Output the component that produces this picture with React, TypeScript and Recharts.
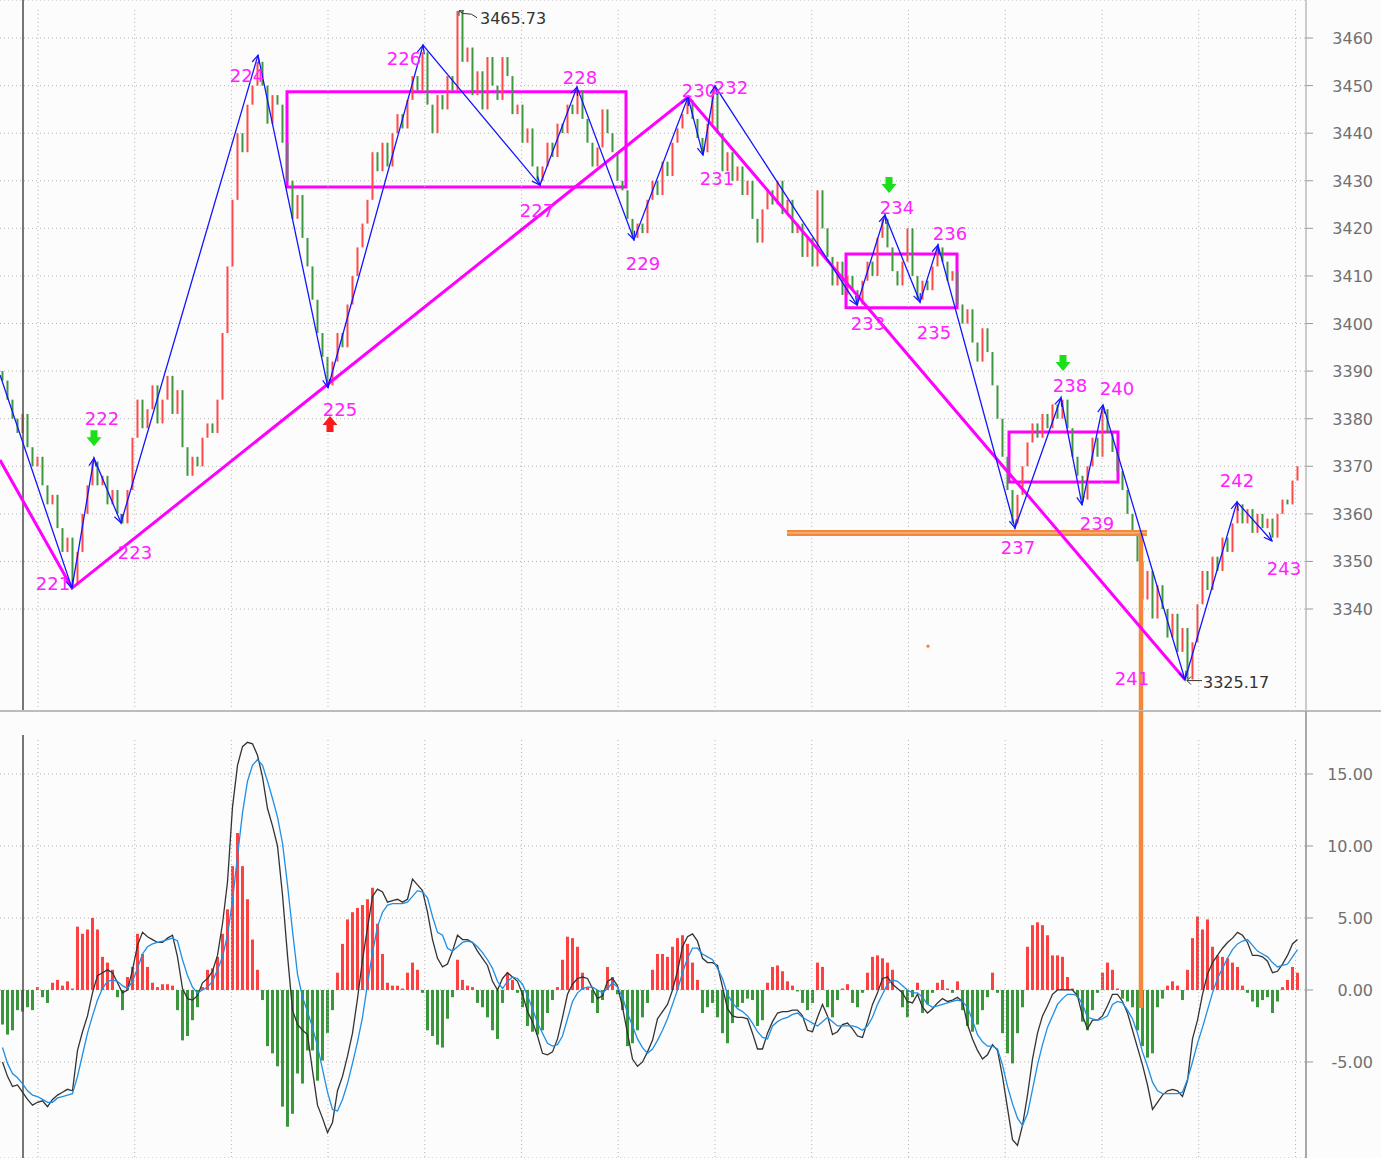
import React from 'react';
import {
  ComposedChart, Bar, Line, XAxis, YAxis, CartesianGrid,
  ReferenceLine, ReferenceArea, ReferenceDot, Cell,
} from 'recharts';

// ---------------- DATA ----------------
const firstOpen = 3390;
const closes = [
  3388, 3384, 3380, 3377, 3381, 3374, 3370, 3372, 3366, 3362, 3364, 3357, 3352, 3355, 3345,
  3352, 3360, 3366, 3371, 3366, 3368, 3362, 3365, 3360, 3358,
  3365, 3376, 3384, 3378, 3382, 3387, 3379, 3384, 3389, 3381, 3386, 3374, 3368, 3372, 3370, 3376, 3379, 3377, 3384, 3398, 3412, 3426, 3440, 3436, 3446, 3450, 3455,
  3450, 3442, 3448, 3446, 3438, 3430, 3422, 3427, 3418, 3412, 3405, 3398, 3393, 3387,
  3392, 3398, 3395, 3404, 3410, 3416, 3421, 3426, 3436, 3432, 3438, 3433, 3440, 3444, 3441, 3447, 3452, 3449, 3457,
  3446, 3440, 3448, 3445, 3452, 3449, 3465.7, 3455, 3458, 3448, 3453, 3445, 3456, 3450, 3447, 3456, 3452, 3444, 3446, 3438, 3441, 3433, 3430,
  3433, 3438, 3435, 3442, 3440, 3446, 3444, 3449,
  3443, 3438, 3433, 3437, 3445, 3440, 3436, 3430, 3428, 3422, 3418,
  3421, 3419, 3426, 3430, 3427, 3434, 3431, 3438, 3441, 3444, 3447,
  3443, 3439, 3436, 3442, 3449,
  3440, 3432, 3436, 3430, 3433, 3427, 3430, 3422, 3417, 3424, 3428, 3425, 3430, 3423, 3426, 3419, 3421, 3414, 3418, 3412, 3428, 3420, 3414, 3408, 3413, 3406, 3410, 3407, 3404,
  3409, 3413, 3410, 3418, 3422,
  3416, 3411, 3408, 3413, 3420, 3410, 3405,
  3409, 3407, 3412, 3416,
  3413, 3409, 3411, 3404, 3400, 3403, 3396, 3392, 3399, 3394, 3387, 3380, 3372, 3365, 3358,
  3364, 3370, 3375, 3379, 3376, 3381, 3378, 3383, 3380, 3384,
  3378, 3372, 3368, 3363,
  3370, 3376, 3372, 3382,
  3377, 3373, 3369, 3365, 3360, 3356, 3350, 3342, 3348, 3338, 3345, 3340, 3334, 3339, 3331, 3336, 3325.2,
  3333, 3341, 3348, 3344, 3351, 3348, 3355, 3352, 3358, 3362,
  3358, 3361, 3356, 3360, 3357, 3359, 3355,
  3360, 3363, 3362, 3367, 3370,
];

const histValues = [
  -2.4, -3.1, -2.8, -1.4, -1.5, -1.2, -1.4, 0.2, -0.5, -0.9,
  0.5, 0.7, 0.3, 0.6, 0.1, 4.4, 3.9, 4.2, 5.0, 4.2,
  2.3, 1.9, 1.4, -0.5, -1.4, 0.9, 1.6, 3.9, 2.5, 1.6,
  0.5, 0.2, 0.4, 0.4, 0.3, -1.4, -3.5, -3.2, -2.1, -1.2,
  0.2, 1.4, 1.5, 2.3, 3.9, 5.6, 8.6, 10.9, 8.6, 6.3,
  3.5, 1.4, -0.7, -3.9, -4.4, -5.3, -8.1, -9.5, -8.6, -5.8,
  -6.5, -4.2, -4.2, -6.3, -4.9, -3.0, -1.4, 1.2, 3.2, 4.9,
  5.4, 5.7, 5.9, 6.3, 7.1, 4.6, 2.5, 0.5, 0.3, 0.3,
  0.1, 1.2, 1.9, 1.4, -0.2, -2.8, -3.2, -3.8, -4.0, -2.0,
  -0.5, 2.1, 0.7, 0.3, 0.2, -0.9, -1.2, -1.9, -2.8, -3.4,
  -0.9, 1.2, 0.7, -0.2, -1.2, -2.5, -2.9, -3.1, -2.8, -1.6,
  -0.7, 0.2, 2.1, 3.7, 3.6, 3.0, 1.2, 0.2, -0.9, -1.6,
  -0.7, 1.6, 0.9, -0.3, -1.4, -3.9, -3.7, -2.8, -1.9, -0.9,
  1.4, 2.5, 2.5, 2.3, 3.0, 3.6, 3.8, 3.2, 1.9, 0.7,
  -1.6, -1.2, -0.9, -1.9, -3.0, -3.7, -2.3, -1.2, -0.9, -0.6,
  -0.7, -2.5, -2.1, 0.5, 1.6, 1.7, 1.3, 0.6, 0.3, -0.1,
  -0.9, -1.4, -0.9, 1.9, 1.6, -1.2, -1.9, -0.7, 0.1, 0.4,
  -0.9, -1.2, -0.2, 1.2, 2.3, 2.4, 2.2, 1.9, 1.4, 0,
  -1.2, -1.9, -0.5, 0.5, -1.6, -1.0, -0.2, 0.5, 0.7, 0.1,
  -0.2, 0.6, -1.4, -2.5, -2.9, -2.4, -1.4, -0.5, 1.2, -0.2,
  -3.0, -4.4, -5.1, -3.0, -1.2, 3.0, 4.5, 4.7, 4.5, 3.8,
  2.4, 2.4, 2.3, 0.9, 0.1, -0.5, -2.2, -2.8, -1.4, -0.2,
  1.2, 1.9, 1.4, 0.1, -0.6, -0.8, -1.2, -2.8, -3.9, -4.7,
  -4.4, -1.2, -0.6, 0.3, 0.6, 0.3, -0.7, 1.4, 3.6, 5.1,
  4.2, 4.9, 3.0, 2.4, 2.3, 2.2, 1.9, 1.6, 0.3, -0.2,
  -0.8, -1.2, -0.7, -0.5, -1.6, -0.8, 0.2, 0.7, 1.6, 1.2,
];

const difValues = [
  -5.0, -6.0, -6.7, -6.6, -7.1, -7.6, -8.0, -7.8, -7.7, -8.1,
  -7.6, -7.3, -7.1, -6.9, -7.0, -4.2, -2.9, -1.8, -0.2, 1.0,
  1.2, 1.4, 1.2, 0.5, -0.2, 0.0, 1.4, 3.1, 4.0, 3.7,
  3.5, 3.3, 3.3, 3.6, 3.8, 2.3, 0.1, -0.6, -0.7, -0.4,
  0.5, 0.8, 1.3, 2.4, 4.6, 7.5, 12.7, 15.6, 16.9, 17.2,
  17.1, 16.3, 14.8, 12.6, 11.4, 10.0, 6.6, 2.4, -1.4, -2.4,
  -2.8, -3.1, -5.6, -8.0, -8.9, -9.9, -9.2, -7.0, -6.0, -4.6,
  -3.0, -0.6, 2.1, 4.3, 6.5, 7.0, 6.8, 6.1, 6.2, 6.3,
  6.1, 6.3, 7.7, 7.3, 6.9, 5.4, 3.5, 2.2, 1.6, 1.8,
  2.7, 3.8, 3.5, 3.5, 3.3, 2.7, 2.2, 1.7, 0.6, 0.0,
  0.8, 1.2, 0.9, 0.6, -0.3, -1.5, -2.2, -3.2, -4.4, -4.5,
  -4.3, -3.4, -1.9, -0.3, 0.4, 0.8, 0.9, 0.8, 0.1, -0.6,
  -0.4, 0.6, 0.8, 0.3, -1.2, -3.0, -4.8, -5.3, -5.0, -4.3,
  -3.5, -2.0, -1.5, -1.0, 0.0, 1.3, 3.0, 3.7, 3.9, 3.4,
  2.2, 1.9, 1.9, 1.7, 0.2, -1.3, -1.8, -1.9, -1.9, -2.0,
  -3.0, -4.1, -4.1, -3.0, -2.2, -1.6, -1.5, -1.5, -1.4, -1.4,
  -1.8, -2.8, -2.9, -1.9, -1.0, -1.8, -3.1, -2.9, -2.4, -2.3,
  -2.7, -3.2, -3.3, -2.2, -1.0, -0.2, 0.8, 0.9, 0.4, 0.1,
  -0.2, -0.8, -0.9, -0.3, -1.2, -1.6, -1.3, -0.9, -0.6, -0.8,
  -0.7, -0.5, -0.8, -2.4, -3.4, -4.2, -4.8, -4.5, -3.8, -4.2,
  -6.0, -8.2, -10.4, -10.8, -9.4, -7.3, -4.8, -3.0, -1.8, -1.1,
  -0.3, 0.0, 0.0, 0.0, 0.0, -0.4, -1.8, -2.7, -2.1, -2.1,
  -1.8, -1.1, -0.3, -0.3, -0.8, -1.6, -2.8, -4.0, -5.2, -6.6,
  -8.3, -7.8, -7.3, -7.0, -6.9, -7.0, -7.4, -6.3, -3.4, -2.1,
  -0.3, 1.1, 1.9, 2.4, 2.9, 3.3, 3.6, 4.0, 3.8, 3.3,
  2.4, 2.4, 2.3, 2.0, 1.2, 1.3, 1.8, 2.4, 3.2, 3.5,
];

const deaValues = [
  -4.0, -5.1, -5.8, -6.1, -6.5, -7.0, -7.3, -7.4, -7.6, -7.8,
  -7.8, -7.5, -7.4, -7.3, -7.2, -6.0, -4.5, -3.0, -1.8, -0.7,
  0.1, 0.6, 0.7, 0.6, 0.3, 0.1, 0.6, 1.5, 2.5, 3.0,
  3.2, 3.3, 3.4, 3.5, 3.6, 3.4, 2.1, 1.0, 0.2, -0.2,
  0.0, 0.2, 0.6, 1.4, 2.3, 3.8, 6.2, 9.3, 12.3, 14.5,
  15.6, 16.0, 15.6, 14.5, 13.3, 12.0, 10.2, 7.3, 4.1, 1.1,
  -0.5, -1.5, -2.6, -3.9, -5.5, -7.1, -8.3, -8.4, -7.6, -6.5,
  -5.1, -3.6, -1.9, 0.4, 2.6, 4.4, 5.4, 5.9, 6.0, 6.0,
  6.0, 6.1, 6.5, 6.9, 6.8, 6.4, 5.1, 4.0, 3.8, 2.9,
  2.7, 3.0, 3.3, 3.4, 3.3, 3.0, 2.6, 2.1, 1.5, 0.6,
  0.1, 0.6, 0.9, 0.8, 0.4, -0.4, -1.3, -2.3, -3.0, -3.7,
  -3.9, -3.8, -3.2, -2.0, -0.8, -0.2, 0.1, 0.2, 0.2, 0.0,
  -0.2, 0.1, 0.5, 0.2, -0.5, -1.6, -2.5, -3.4, -4.0, -4.4,
  -4.1, -3.5, -2.8, -2.0, -1.0, 0.0, 1.2, 2.2, 2.9, 2.9,
  2.5, 2.3, 2.1, 1.5, 0.8, -0.3, -0.9, -1.3, -1.5, -1.8,
  -2.3, -2.9, -3.3, -3.4, -2.5, -2.2, -2.0, -1.9, -1.7, -1.6,
  -1.9, -2.1, -2.3, -2.5, -2.2, -1.9, -2.2, -2.5, -2.5, -2.5,
  -2.5, -2.6, -2.8, -2.5, -1.9, -1.0, -0.3, 0.4, 0.7, 0.6,
  0.3, 0.0, -0.2, -0.2, -0.5, -1.0, -1.2, -1.1, -1.0, -0.9,
  -0.8, -0.7, -0.8, -1.2, -2.1, -3.1, -3.6, -3.9, -3.9, -4.1,
  -5.2, -6.7, -7.9, -8.9, -9.4, -8.6, -6.9, -5.2, -3.8, -2.6,
  -1.8, -1.0, -0.6, -0.3, -0.3, -0.4, -1.0, -1.9, -2.0, -2.1,
  -2.0, -1.8, -1.0, -0.8, -0.9, -1.4, -2.0, -3.0, -4.3, -5.3,
  -6.4, -7.0, -7.2, -7.2, -7.2, -7.2, -7.1, -6.2, -5.0, -3.7,
  -2.6, -1.4, -0.2, 0.8, 1.5, 2.2, 2.8, 3.2, 3.4, 3.5,
  3.1, 2.7, 2.5, 2.3, 1.9, 1.6, 1.7, 1.8, 2.3, 2.8,
];

// zigzag pivots (bar index, price, label)
const zigzagIdx = [-0.5, 13.9, 18.3, 23.7, 51.1, 65.1, 84.1, 107.5, 114.9, 126.3, 137.1, 140.1, 142.5, 170.9, 176.5, 183.5, 187.1, 202.5, 211.7, 215.9, 220.1, 236.5, 246.9, 253.9];
const zigzagPrice = [3389.2, 3344.4, 3371.7, 3358.1, 3456.4, 3386.5, 3458.5, 3429.1, 3449.7, 3417.6, 3447.6, 3435.4, 3449.9, 3403.9, 3422.8, 3404.5, 3416.5, 3357.0, 3384.4, 3361.9, 3382.9, 3325.17, 3362.5, 3354.3];
const zigzagLabels = ['', '221', '222', '223', '224', '225', '226', '227', '228', '229', '230', '231', '232', '233', '234', '235', '236', '237', '238', '239', '240', '241', '242', '243'];

// magenta trend lines
const trendIdx = [-0.5, 13.9, 137.1, 236.5];
const trendPrice = [3371.3, 3344.4, 3447.6, 3325.17];

// magenta consolidation boxes
const boxStartIdx = [56.9, 168.7, 201.3];
const boxEndIdx = [124.7, 190.9, 223.1];
const boxLowPrice = [3428.7, 3403.3, 3366.7];
const boxHighPrice = [3448.7, 3414.6, 3377.2];

// signal arrows
const sellSignalIdx = [18.3, 177.3, 212.1];
const sellSignalPrice = [3375.9, 3429.1, 3391.7];
const buySignalIdx = [65.5];
const buySignalPrice = [3378.9];

// extreme price annotations
const extremeIdx = [91.1, 236.5];
const extremePrice = [3465.73, 3325.17];

// orange support level
const supportPrice = 3356.0;
const supportStartIdx = 156.9;
const supportEndIdx = 228.9;
const supportDropIdx = 227.7;
const supportDropMacd = -1.25;
const orangeDotIdx = 185.1;
const orangeDotPrice = 3332.2;

// axis ticks
const priceTicks = [3340, 3350, 3360, 3370, 3380, 3390, 3400, 3410, 3420, 3430, 3440, 3450, 3460];
const macdTicks = [-5, 0, 5, 10, 15];
const gridIdx = [7.1, 26.44, 45.78, 65.1, 84.46, 103.8, 123.14, 142.5, 161.84, 181.2, 200.54, 219.9, 239.24, 258.6];
const cursorIdx = 4.1;

// ---------------- LAYOUT ----------------
const W = 1381;
const TOP_H = 711;
const BOT_H = 447;
const AXIS_W = 75;
const PLOT_W = W - AXIS_W;
const X_MIN = -0.5;
const X_MAX = 260.7;
const P_MIN = 3318.57;
const P_MAX = 3467.99;
const M_MIN = -11.67;
const M_MAX = 19.375;
const PX_PER_BAR = PLOT_W / (X_MAX - X_MIN);
const PX_PER_PT = TOP_H / (P_MAX - P_MIN);
const GRID_TOP_P = 3465.9;
const GRID_TOP_M = 17.36;
const CURSOR_TOP_M = 17.7;

const FONT = '"DejaVu Sans", Verdana, sans-serif';
const MAGENTA = '#ff22ff';
const ZIG_BLUE = '#1414ff';
const ORANGE = '#f4883a';
const C_RED = '#ff4a4a';
const C_GREEN = '#3f973f';
const H_RED = '#ff4040';
const H_GREEN = '#3a963a';
const GRID = '#b4b4b4';

const LABEL_OFFSET: Record<string, [number, number]> = {
  '221': [-19, 2], '222': [8, -33], '223': [14, 36], '224': [-11, 27], '225': [12, 28],
  '226': [-19, 20], '227': [-3, 32], '228': [3, -3], '229': [9, 30], '230': [11, 0],
  '231': [14, 30], '232': [16, 8], '233': [11, 25], '234': [12, -1], '235': [14, 37],
  '236': [12, -5], '237': [3, 26], '238': [9, -6], '239': [15, 25], '240': [14, -10],
  '241': [-53, 5], '242': [0, -15], '243': [12, 34],
};

// ---------------- DERIVED TABLES ----------------
const candleData = closes.map((c, i) => {
  const o = i === 0 ? firstOpen : closes[i - 1];
  return { i, range: [Math.min(o, c), Math.max(o, c)], up: c >= o };
});
const macdData = histValues.map((h, i) => ({ i, hist: h, dif: difValues[i], dea: deaValues[i] }));
const zigzagData = zigzagIdx.map((x, k) => ({
  i: x, p: zigzagPrice[k], label: zigzagLabels[k],
  prevI: k > 0 ? zigzagIdx[k - 1] : null, prevP: k > 0 ? zigzagPrice[k - 1] : null,
}));
const trendData = trendIdx.map((x, k) => ({ i: x, p: trendPrice[k] }));

// ---------------- RENDER HELPERS ----------------
const CandleShape = (props: any) => {
  const { x, y, width, height, payload } = props;
  if (x == null || y == null) return <g />;
  const cx = x + width / 2;
  const top = height < 0 ? y + height : y;
  const h = Math.max(1, Math.abs(height));
  return <rect x={cx - 1} y={top} width={2} height={h} fill={payload.up ? C_RED : C_GREEN} />;
};

const ZigDot = (props: any) => {
  const { cx, cy, payload } = props;
  if (cx == null || cy == null) return <g />;
  const parts: any[] = [];
  if (payload.prevI != null) {
    const dxp = (payload.i - payload.prevI) * PX_PER_BAR;
    const dyp = -(payload.p - payload.prevP) * PX_PER_PT;
    const len = Math.hypot(dxp, dyp) || 1;
    const bx = -dxp / len, by = -dyp / len;
    const a = (24 * Math.PI) / 180, L = 9;
    const w1x = cx + L * (bx * Math.cos(a) - by * Math.sin(a));
    const w1y = cy + L * (bx * Math.sin(a) + by * Math.cos(a));
    const w2x = cx + L * (bx * Math.cos(-a) - by * Math.sin(-a));
    const w2y = cy + L * (bx * Math.sin(-a) + by * Math.cos(-a));
    parts.push(<polyline key="ah" points={`${w1x},${w1y} ${cx},${cy} ${w2x},${w2y}`} fill="none" stroke={ZIG_BLUE} strokeWidth={1.2} />);
  }
  const off = LABEL_OFFSET[payload.label];
  if (off) {
    parts.push(
      <text key="lb" x={cx + off[0]} y={cy + off[1]} textAnchor="middle" fontFamily={FONT} fontSize={18} fill={MAGENTA}>
        {payload.label}
      </text>,
    );
  }
  return <g>{parts}</g>;
};

const SellArrow = (props: any) => {
  const { cx, cy } = props;
  return (
    <polygon
      points={`${cx - 3.5},${cy - 8} ${cx + 3.5},${cy - 8} ${cx + 3.5},${cy - 1} ${cx + 7.5},${cy - 1} ${cx},${cy + 8} ${cx - 7.5},${cy - 1} ${cx - 3.5},${cy - 1}`}
      fill="#19e019"
    />
  );
};

const BuyArrow = (props: any) => {
  const { cx, cy } = props;
  return (
    <polygon
      points={`${cx - 3.5},${cy + 8} ${cx + 3.5},${cy + 8} ${cx + 3.5},${cy + 1} ${cx + 7.5},${cy + 1} ${cx},${cy - 8} ${cx - 7.5},${cy + 1} ${cx - 3.5},${cy + 1}`}
      fill="#ff1a1a"
    />
  );
};

const ExtremeMark = (props: any) => {
  const { cx, cy, high, value } = props;
  if (high) {
    return (
      <g>
        <polyline points={`${cx + 1},${cy + 5} ${cx + 1},${cy} ${cx + 6},${cy}`} fill="none" stroke="#333" strokeWidth={1} />
        <path d={`M${cx + 1},${cy} q4,4 8,3 t10,4`} fill="none" stroke="#333" strokeWidth={1} />
        <text x={cx + 22} y={cy + 13} fontFamily={FONT} fontSize={16} fill="#333">{value.toFixed(2)}</text>
      </g>
    );
  }
  return (
    <g>
      <polyline points={`${cx + 6},${cy - 3} ${cx + 2},${cy + 1} ${cx + 6},${cy + 5}`} fill="none" stroke="#333" strokeWidth={1} />
      <line x1={cx + 2} y1={cy + 1} x2={cx + 17} y2={cy + 1} stroke="#333" strokeWidth={1} />
      <text x={cx + 18} y={cy + 8} fontFamily={FONT} fontSize={16} fill="#333">{value.toFixed(2)}</text>
    </g>
  );
};

const makeTick = (digits: number) => (props: any) => {
  const { x, y, payload } = props;
  return (
    <text x={x + 58} y={y} dy={6} textAnchor="end" fontFamily={FONT} fontSize={16} fill="#707070">
      {Number(payload.value).toFixed(digits)}
    </text>
  );
};
const PriceTick = makeTick(0);
const MacdTick = makeTick(2);

// ---------------- APP ----------------
export default function App() {
  return (
    <div style={{ position: 'absolute', left: 0, top: 0, width: W, height: TOP_H + BOT_H, background: '#fcfcfc', overflow: 'hidden' }}>
      <div style={{ position: 'absolute', left: 0, top: 0 }}>
        <ComposedChart width={W} height={TOP_H} data={candleData} margin={{ top: 0, right: 0, bottom: 0, left: 0 }}>
          <XAxis type="number" dataKey="i" domain={[X_MIN, X_MAX]} hide allowDataOverflow />
          <YAxis
            orientation="right" type="number" domain={[P_MIN, P_MAX]} ticks={priceTicks} interval={0}
            width={AXIS_W} allowDataOverflow tickSize={7} tickMargin={2}
            axisLine={{ stroke: '#bdbdbd', strokeWidth: 1.5 }} tickLine={{ stroke: '#9a9a9a' }} tick={PriceTick}
          />
          <CartesianGrid vertical={false} stroke={GRID} strokeDasharray="1 3" />
          {gridIdx.map((g) => (
            <ReferenceLine key={'vg' + g} segment={[{ x: g, y: GRID_TOP_P }, { x: g, y: P_MIN }]} stroke={GRID} strokeDasharray="1 3" />
          ))}
          <ReferenceLine x={cursorIdx} stroke="#4a4a4a" strokeWidth={1.5} />
          {boxStartIdx.map((b, k) => (
            <ReferenceArea
              key={'bx' + k} x1={b} x2={boxEndIdx[k]} y1={boxLowPrice[k]} y2={boxHighPrice[k]}
              fill="none" fillOpacity={0} stroke="#ff00ff" strokeWidth={3} ifOverflow="visible"
            />
          ))}
          <Bar dataKey="range" barSize={2} isAnimationActive={false} shape={(p: any) => <CandleShape {...p} />} />
          <ReferenceLine segment={[{ x: supportStartIdx, y: supportPrice }, { x: supportEndIdx, y: supportPrice }]} stroke={ORANGE} strokeWidth={6} />
          <ReferenceLine segment={[{ x: supportStartIdx, y: supportPrice }, { x: supportEndIdx, y: supportPrice }]} stroke="#fbc9a0" strokeWidth={1} />
          <ReferenceLine segment={[{ x: supportDropIdx, y: supportPrice }, { x: supportDropIdx, y: P_MIN }]} stroke={ORANGE} strokeWidth={4.5} />
          <ReferenceDot x={orangeDotIdx} y={orangeDotPrice} r={1.6} fill={ORANGE} stroke="none" />
          <Line data={trendData} dataKey="p" type="linear" stroke="#ff00ff" strokeWidth={3} dot={false} isAnimationActive={false} />
          <Line
            data={zigzagData} dataKey="p" type="linear" stroke={ZIG_BLUE} strokeWidth={1.3}
            dot={(p: any) => <ZigDot key={'zd' + p.index} {...p} />} isAnimationActive={false}
          />
          {sellSignalIdx.map((s, k) => (
            <ReferenceDot key={'ss' + k} x={s} y={sellSignalPrice[k]} r={8} shape={(p: any) => <SellArrow {...p} />} />
          ))}
          {buySignalIdx.map((s, k) => (
            <ReferenceDot key={'bs' + k} x={s} y={buySignalPrice[k]} r={8} shape={(p: any) => <BuyArrow {...p} />} />
          ))}
          {extremeIdx.map((e, k) => (
            <ReferenceDot
              key={'ex' + k} x={e} y={extremePrice[k]} r={2}
              shape={(p: any) => <ExtremeMark {...p} high={k === 0} value={extremePrice[k]} />}
            />
          ))}
        </ComposedChart>
      </div>
      <div style={{ position: 'absolute', left: 0, top: TOP_H - 1, width: W, height: 1.5, background: '#bcbcbc' }} />
      <div style={{ position: 'absolute', left: 0, top: TOP_H }}>
        <ComposedChart width={W} height={BOT_H} data={macdData} margin={{ top: 0, right: 0, bottom: 0, left: 0 }}>
          <XAxis type="number" dataKey="i" domain={[X_MIN, X_MAX]} hide allowDataOverflow />
          <YAxis
            orientation="right" type="number" domain={[M_MIN, M_MAX]} ticks={macdTicks} interval={0}
            width={AXIS_W} allowDataOverflow tickSize={7} tickMargin={2}
            axisLine={{ stroke: '#a8a8a8', strokeWidth: 2 }} tickLine={{ stroke: '#9a9a9a' }} tick={MacdTick}
          />
          <CartesianGrid vertical={false} stroke={GRID} strokeDasharray="1 3" />
          {gridIdx.map((g) => (
            <ReferenceLine key={'vg2' + g} segment={[{ x: g, y: GRID_TOP_M }, { x: g, y: M_MIN }]} stroke={GRID} strokeDasharray="1 3" />
          ))}
          <ReferenceLine segment={[{ x: cursorIdx, y: CURSOR_TOP_M }, { x: cursorIdx, y: M_MIN }]} stroke="#4a4a4a" strokeWidth={1.5} />
          <Bar dataKey="hist" barSize={3} isAnimationActive={false}>
            {macdData.map((d) => (
              <Cell key={'c' + d.i} fill={d.hist >= 0 ? H_RED : H_GREEN} />
            ))}
          </Bar>
          <Line dataKey="dif" type="linear" stroke="#333333" strokeWidth={1.3} dot={false} isAnimationActive={false} />
          <Line dataKey="dea" type="linear" stroke="#1f8fe5" strokeWidth={1.3} dot={false} isAnimationActive={false} />
          <ReferenceLine segment={[{ x: supportDropIdx, y: M_MAX }, { x: supportDropIdx, y: supportDropMacd }]} stroke={ORANGE} strokeWidth={4.5} />
        </ComposedChart>
      </div>
    </div>
  );
}
